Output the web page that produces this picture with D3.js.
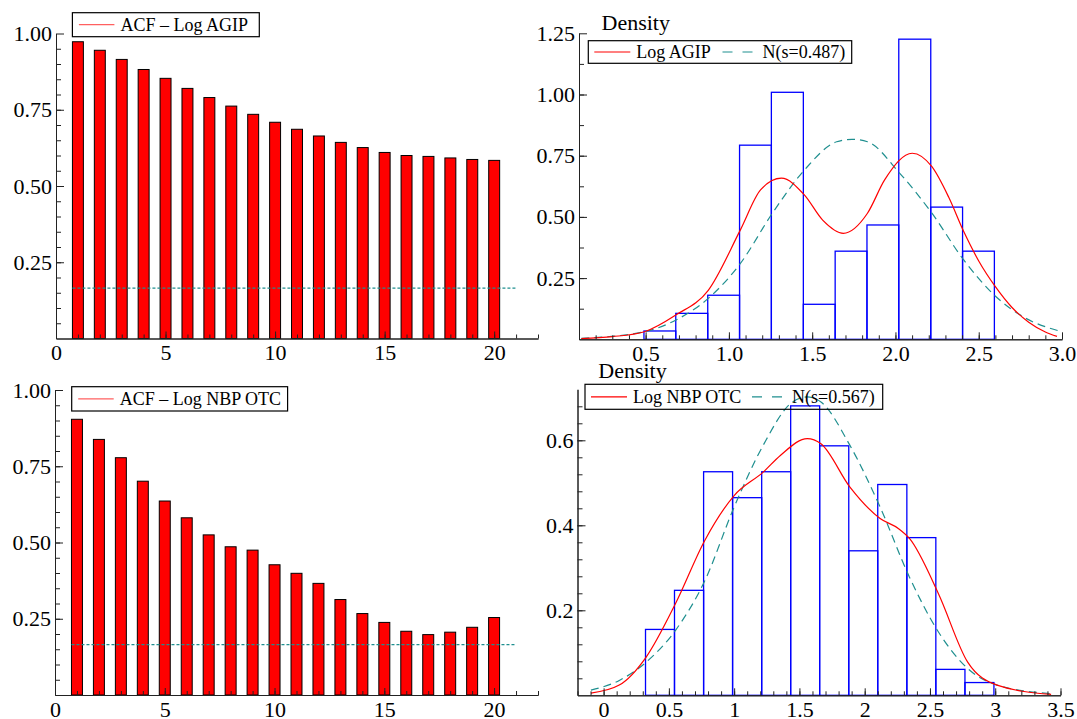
<!DOCTYPE html>
<html>
<head>
<meta charset="utf-8">
<script src="https://cdn.jsdelivr.net/npm/d3@7"></script>
<style>
  body { margin: 0; background: #fff; }
  text { font-family: "Liberation Serif", "Times New Roman", serif; }
</style>
</head>
<body>
<script>
// ---- data ----
const lags = [1, 2, 3, 4, 5, 6, 7, 8, 9, 10, 11, 12, 13, 14, 15, 16, 17, 18, 19, 20];
const acfAgip = [0.973, 0.945, 0.915, 0.882, 0.853, 0.820, 0.790, 0.762, 0.735, 0.709,
                 0.686, 0.664, 0.643, 0.626, 0.610, 0.600, 0.597, 0.592, 0.587, 0.584];
const acfNbp = [0.904, 0.838, 0.778, 0.701, 0.636, 0.581, 0.525, 0.486, 0.475, 0.427,
                0.399, 0.366, 0.313, 0.267, 0.238, 0.209, 0.198, 0.206, 0.222, 0.254];
const acfBand = 0.165;

const agipEdges = [0.490, 0.681, 0.873, 1.064, 1.255, 1.447, 1.638, 1.829, 2.020, 2.212, 2.403, 2.594];
const agipHeights = [0.034, 0.106, 0.180, 0.793, 1.009, 0.143, 0.360, 0.467, 1.226, 0.540, 0.360];
const agipKdeX = [0.114, 0.30, 0.493, 0.683, 0.876, 1.069, 1.19, 1.315, 1.453, 1.563, 1.687, 1.832, 1.935, 2.101, 2.219, 2.32, 2.41, 2.50, 2.60, 2.70, 2.80, 2.90, 2.97];
const agipKdeY = [0.003, 0.011, 0.031, 0.100, 0.200, 0.447, 0.610, 0.658, 0.590, 0.487, 0.433, 0.515, 0.651, 0.760, 0.705, 0.580, 0.440, 0.320, 0.215, 0.130, 0.070, 0.030, 0.012];
const agipNormX = [0.114, 0.493, 0.683, 0.876, 1.069, 1.261, 1.454, 1.647, 1.739, 1.832, 2.026, 2.219, 2.41, 2.604, 2.764, 3.0];
const agipNormY = [0.004, 0.031, 0.079, 0.167, 0.310, 0.515, 0.692, 0.807, 0.817, 0.807, 0.678, 0.515, 0.324, 0.174, 0.093, 0.031];

const nbpEdges = [0.321, 0.543, 0.766, 0.988, 1.211, 1.433, 1.655, 1.878, 2.100, 2.323, 2.545, 2.768, 2.990];
const nbpHeights = [0.155, 0.247, 0.526, 0.465, 0.526, 0.681, 0.587, 0.340, 0.496, 0.371, 0.061, 0.030];
const nbpKdeX = [-0.097, 0.12, 0.326, 0.551, 0.776, 1.0, 1.222, 1.356, 1.56, 1.665, 1.887, 2.118, 2.26, 2.343, 2.565, 2.789, 3.014, 3.428];
const nbpKdeY = [0.005, 0.024, 0.090, 0.216, 0.365, 0.470, 0.525, 0.565, 0.604, 0.592, 0.490, 0.416, 0.392, 0.369, 0.239, 0.078, 0.024, 0.002];
const nbpNormX = [-0.097, 0.12, 0.326, 0.551, 0.776, 1.0, 1.222, 1.446, 1.56, 1.665, 1.887, 2.118, 2.343, 2.565, 2.789, 3.014, 3.428];
const nbpNormY = [0.012, 0.035, 0.078, 0.153, 0.270, 0.443, 0.588, 0.690, 0.702, 0.690, 0.588, 0.443, 0.278, 0.149, 0.063, 0.024, 0.004];

const acfTicksY = [0.25, 0.5, 0.75, 1.0];
const acfTicksX = [0, 5, 10, 15, 20];
const agipTicksY = [0.25, 0.5, 0.75, 1.0, 1.25];
const agipTicksX = [0.5, 1.0, 1.5, 2.0, 2.5, 3.0];
const nbpTicksY = [0.2, 0.4, 0.6];
const nbpTicksX = [0, 0.5, 1, 1.5, 2, 2.5, 3, 3.5];

const teal = "#1f8f8f";
const svg = d3.select("body").append("svg")
    .attr("width", 1077).attr("height", 719);

// inward ticks, major + minor
function axes(x, y, xt, xminor, xfmt, yt, yminor, yfmt) {
    const by = y.range()[0], lx = x.range()[0];
    svg.append("g").attr("transform", `translate(0,${by})`)
        .call(d3.axisBottom(x).tickValues(xminor).tickSize(-4).tickSizeOuter(0).tickFormat(""));
    const gx = svg.append("g").attr("transform", `translate(0,${by})`)
        .call(d3.axisBottom(x).tickValues(xt).tickSize(-7).tickSizeOuter(0).tickPadding(6).tickFormat(xfmt));
    svg.append("g").attr("transform", `translate(${lx},0)`)
        .call(d3.axisLeft(y).tickValues(yminor).tickSize(-5).tickSizeOuter(0).tickFormat(""));
    const gy = svg.append("g").attr("transform", `translate(${lx},0)`)
        .call(d3.axisLeft(y).tickValues(yt).tickSize(-8).tickSizeOuter(0).tickPadding(4).tickFormat(yfmt));
    svg.selectAll(".domain, .tick line").attr("stroke", "#222");
    [gx, gy].forEach(g => g.selectAll("text")
        .attr("font-family", '"Liberation Serif", serif').attr("font-size", 22).attr("fill", "#000"));
}

function legendBox(x0, y0, x1, y1) {
    svg.append("rect").attr("x", x0).attr("y", y0).attr("width", x1 - x0).attr("height", y1 - y0)
        .attr("fill", "none").attr("stroke", "#000").attr("stroke-width", 1.2);
}
function legendText(x, y, s) {
    svg.append("text").attr("x", x).attr("y", y).attr("font-size", 18).text(s);
}
function legendLine(x0, x1, y, color, dash) {
    svg.append("line").attr("x1", x0).attr("x2", x1).attr("y1", y).attr("y2", y)
        .attr("stroke", color).attr("stroke-width", 1.2).attr("stroke-dasharray", dash || null);
}

// ---- ACF panels ----
function acfPanel(vals, xr, yr, legend, lab) {
    const x = d3.scaleLinear().domain([0, 22]).range(xr);
    const y = d3.scaleLinear().domain([0, 1]).range(yr);
    svg.append("g").selectAll("rect").data(lags).join("rect")
        .attr("x", d => x(d - 0.25))
        .attr("width", x(0.5) - x(0))
        .attr("y", (d, i) => y(vals[i]))
        .attr("height", (d, i) => y(0) - y(vals[i]))
        .attr("fill", "#ff0000").attr("stroke", "#000").attr("stroke-width", 1);
    svg.append("line").attr("x1", x(0.75)).attr("x2", x(21)).attr("y1", y(acfBand)).attr("y2", y(acfBand))
        .attr("stroke", teal).attr("stroke-width", 1.2).attr("stroke-dasharray", "3,2");
    axes(x, y, acfTicksX, d3.range(0, 23), d3.format("d"),
         acfTicksY, d3.range(0.05, 1.0, 0.05), d3.format(".2f"));
    legendBox(legend[0], legend[1], legend[2], legend[3]);
    const cy = (legend[1] + legend[3]) / 2;
    legendLine(legend[0] + 6.5, legend[0] + 42, cy, "#ff6060");
    legendText(legend[0] + 48, cy + 6, lab);
}
acfPanel(acfAgip, [56, 538], [338.5, 33.5], [72.4, 12.7, 259.3, 36.7], "ACF \u2013 Log AGIP");
acfPanel(acfNbp, [55, 538], [695, 390], [71.7, 386.7, 287.6, 411], "ACF \u2013 Log NBP OTC");

// ---- density panels ----
function densPanel(o) {
    const x = d3.scaleLinear().domain(o.xd).range(o.xr);
    const y = d3.scaleLinear().domain(o.yd).range(o.yr);
    svg.append("g").selectAll("rect").data(o.heights).join("rect")
        .attr("x", (d, i) => x(o.edges[i]))
        .attr("width", (d, i) => x(o.edges[i + 1]) - x(o.edges[i]))
        .attr("y", d => y(d))
        .attr("height", d => y(0) - y(d))
        .attr("fill", "none").attr("stroke", "#0000ff").attr("stroke-width", 1.3);
    const line = d3.line().x(d => x(d[0])).y(d => y(d[1])).curve(d3.curveMonotoneX);
    svg.append("path").attr("d", line(d3.zip(o.normX, o.normY)))
        .attr("fill", "none").attr("stroke", teal).attr("stroke-width", 1.2).attr("stroke-dasharray", "8,5");
    svg.append("path").attr("d", line(d3.zip(o.kdeX, o.kdeY)))
        .attr("fill", "none").attr("stroke", "#ff0000").attr("stroke-width", 1.2);
    axes(x, y, o.xt, o.xminor, o.xfmt, o.yt, o.yminor, o.yfmt);
    svg.append("text").attr("x", o.dens[0]).attr("y", o.dens[1]).attr("font-size", 22).text("Density");
    const L = o.legend;
    legendBox(L[0], L[1], L[2], L[3]);
    const cy = (L[1] + L[3]) / 2;
    legendLine(L[0] + 6, L[0] + 42, cy, "#ff0000");
    legendText(L[0] + 48, cy + 6, o.lab);
    legendLine(L[4], L[4] + 31, cy, teal, "10,10");
    legendText(L[4] + 40, cy + 6, o.nlab);
}
densPanel({
    xd: [0.1, 3.0], xr: [579, 1062], yd: [0, 1.25], yr: [339.3, 33.3],
    edges: agipEdges, heights: agipHeights,
    kdeX: agipKdeX, kdeY: agipKdeY, normX: agipNormX, normY: agipNormY,
    xt: agipTicksX, xminor: d3.range(0.1, 3.01, 0.1), xfmt: d3.format(".1f"),
    yt: agipTicksY, yminor: d3.range(0.125, 1.25, 0.125), yfmt: d3.format(".2f"),
    dens: [601.5, 29.5], legend: [588.3, 40.7, 851.7, 63.3, 722.5],
    lab: "Log AGIP", nlab: "N(s=0.487)"
});
densPanel({
    xd: [-0.2, 3.5], xr: [577.5, 1060.5], yd: [0, 0.72], yr: [695.3, 389.3],
    edges: nbpEdges, heights: nbpHeights,
    kdeX: nbpKdeX, kdeY: nbpKdeY, normX: nbpNormX, normY: nbpNormY,
    xt: nbpTicksX, xminor: d3.range(-0.2, 3.51, 0.1), xfmt: d3.format(""),
    yt: nbpTicksY, yminor: d3.range(0.04, 0.72, 0.04), yfmt: d3.format(".1f"),
    dens: [598.3, 378.3], legend: [585, 384.3, 882.7, 409.3, 752],
    lab: "Log NBP OTC", nlab: "N(s=0.567)"
});
</script>
</body>
</html>
